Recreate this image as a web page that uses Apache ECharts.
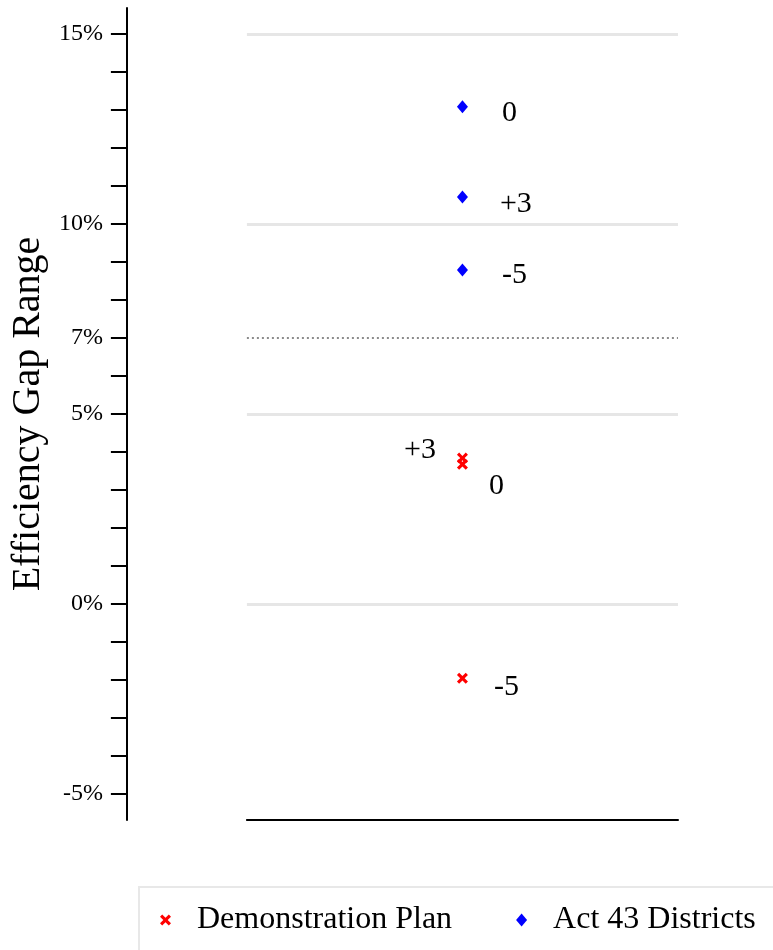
<!DOCTYPE html>
<html>
<head>
<meta charset="utf-8">
<script src="https://cdn.jsdelivr.net/npm/echarts@6/dist/echarts.min.js"></script>
<style>
  html, body { margin: 0; padding: 0; background: #fff; }
  #chart { width: 773px; height: 950px; }
</style>
</head>
<body>
<div id="chart"></div>
<script>
// ---- data ----
const categories = ['Plan'];
const demoValues = [3.84, 3.68, -1.95];
const demoLabels = ['+3', '0', '-5'];
const act43Values = [13.08, 10.71, 8.79];
const act43Labels = ['0', '+3', '-5'];
const tickValues = [-5, -4, -3, -2, -1, 0, 1, 2, 3, 4, 5, 6, 7, 8, 9, 10, 11, 12, 13, 14, 15];
const tickLabels = [-5, 0, 5, 7, 10, 15];
const gridLineValues = [15, 10, 5, 0];
const thresholdValue = 7;
const seriesNames = ['Demonstration Plan', 'Act 43 Districts'];

// ---- styles ----
const FONT = "'Liberation Serif', 'Times New Roman', 'DejaVu Serif', serif";
const crossPath = 'path://M0,2 L2,0 L5,3 L8,0 L10,2 L7,5 L10,8 L8,10 L5,7 L2,10 L0,8 L3,5 Z';
const demoLabelStyle = [
  { position: 'left', distance: 21, offset: [0, -8] },
  { position: 'right', distance: 21, offset: [0, 22] },
  { position: 'right', distance: 26, offset: [0, 9] }
];
const actLabelStyle = [
  { position: 'right', distance: 34, offset: [0, 6] },
  { position: 'right', distance: 32, offset: [0, 7] },
  { position: 'right', distance: 34, offset: [0, 5] }
];

function buildData(values, labels, styles) {
  return values.map((v, i) => ({
    value: [categories[0], v],
    label: Object.assign({ show: true, formatter: labels[i] }, styles[i])
  }));
}

const chart = echarts.init(document.getElementById('chart'), null, { renderer: 'canvas' });

const markLines = gridLineValues.map(v => ({
  yAxis: v,
  lineStyle: { color: '#e6e6e6', width: 3, type: 'solid' }
})).concat([{
  yAxis: thresholdValue,
  lineStyle: { color: '#666', width: 1.5, type: [2, 3] }
}]);

chart.setOption({
  animation: false,
  backgroundColor: '#fff',
  textStyle: { fontFamily: FONT },
  grid: { left: 245, right: 95, top: 8, bottom: 130, containLabel: false },
  graphic: [{
    type: 'rect',
    left: 138,
    top: 886,
    shape: { width: 700, height: 120 },
    style: { fill: '#fff', stroke: '#e8e8e8', lineWidth: 2 },
    silent: true,
    z: 0
  }],
  legend: {
    left: 138,
    top: 886,
    padding: [18, 4, 20, 22],
    itemGap: 64,
    itemWidth: 11,
    itemHeight: 13,
    textStyle: { fontFamily: FONT, fontSize: 32, color: '#000', padding: [0, 0, 0, 21] },
    data: [
      { name: seriesNames[0], icon: crossPath },
      { name: seriesNames[1], icon: 'diamond' }
    ],
    z: 5
  },
  xAxis: {
    type: 'category',
    data: categories,
    boundaryGap: true,
    axisLine: { show: true, onZero: false, lineStyle: { color: '#000', width: 2 } },
    axisTick: { show: false },
    axisLabel: { show: false },
    splitLine: { show: false }
  },
  yAxis: {
    type: 'value',
    min: -5.68,
    max: 15.68,
    offset: 120,
    name: 'Efficiency Gap Range',
    nameLocation: 'middle',
    nameGap: 76,
    nameTextStyle: { fontFamily: FONT, fontSize: 40, color: '#000' },
    axisLine: { show: true, lineStyle: { color: '#000', width: 2 } },
    axisTick: {
      show: true,
      customValues: tickValues,
      length: 16,
      lineStyle: { color: '#000', width: 2 }
    },
    axisLabel: {
      show: true,
      customValues: tickLabels,
      formatter: '{value}%',
      margin: 24,
      fontFamily: FONT,
      fontSize: 24,
      color: '#000'
    },
    splitLine: { show: false }
  },
  series: [
    {
      name: seriesNames[0],
      type: 'scatter',
      symbol: crossPath,
      symbolSize: 11,
      itemStyle: { color: '#ff0000', opacity: 1 },
      label: { fontFamily: FONT, fontSize: 30, color: '#000' },
      data: buildData(demoValues, demoLabels, demoLabelStyle),
      markLine: {
        silent: true,
        symbol: 'none',
        label: { show: false },
        data: markLines,
        z: 1
      },
      z: 3
    },
    {
      name: seriesNames[1],
      type: 'scatter',
      symbol: 'diamond',
      symbolSize: [11, 13],
      itemStyle: { color: '#0000ff', opacity: 1 },
      label: { fontFamily: FONT, fontSize: 30, color: '#000' },
      data: buildData(act43Values, act43Labels, actLabelStyle),
      z: 3
    }
  ]
});
</script>
</body>
</html>
